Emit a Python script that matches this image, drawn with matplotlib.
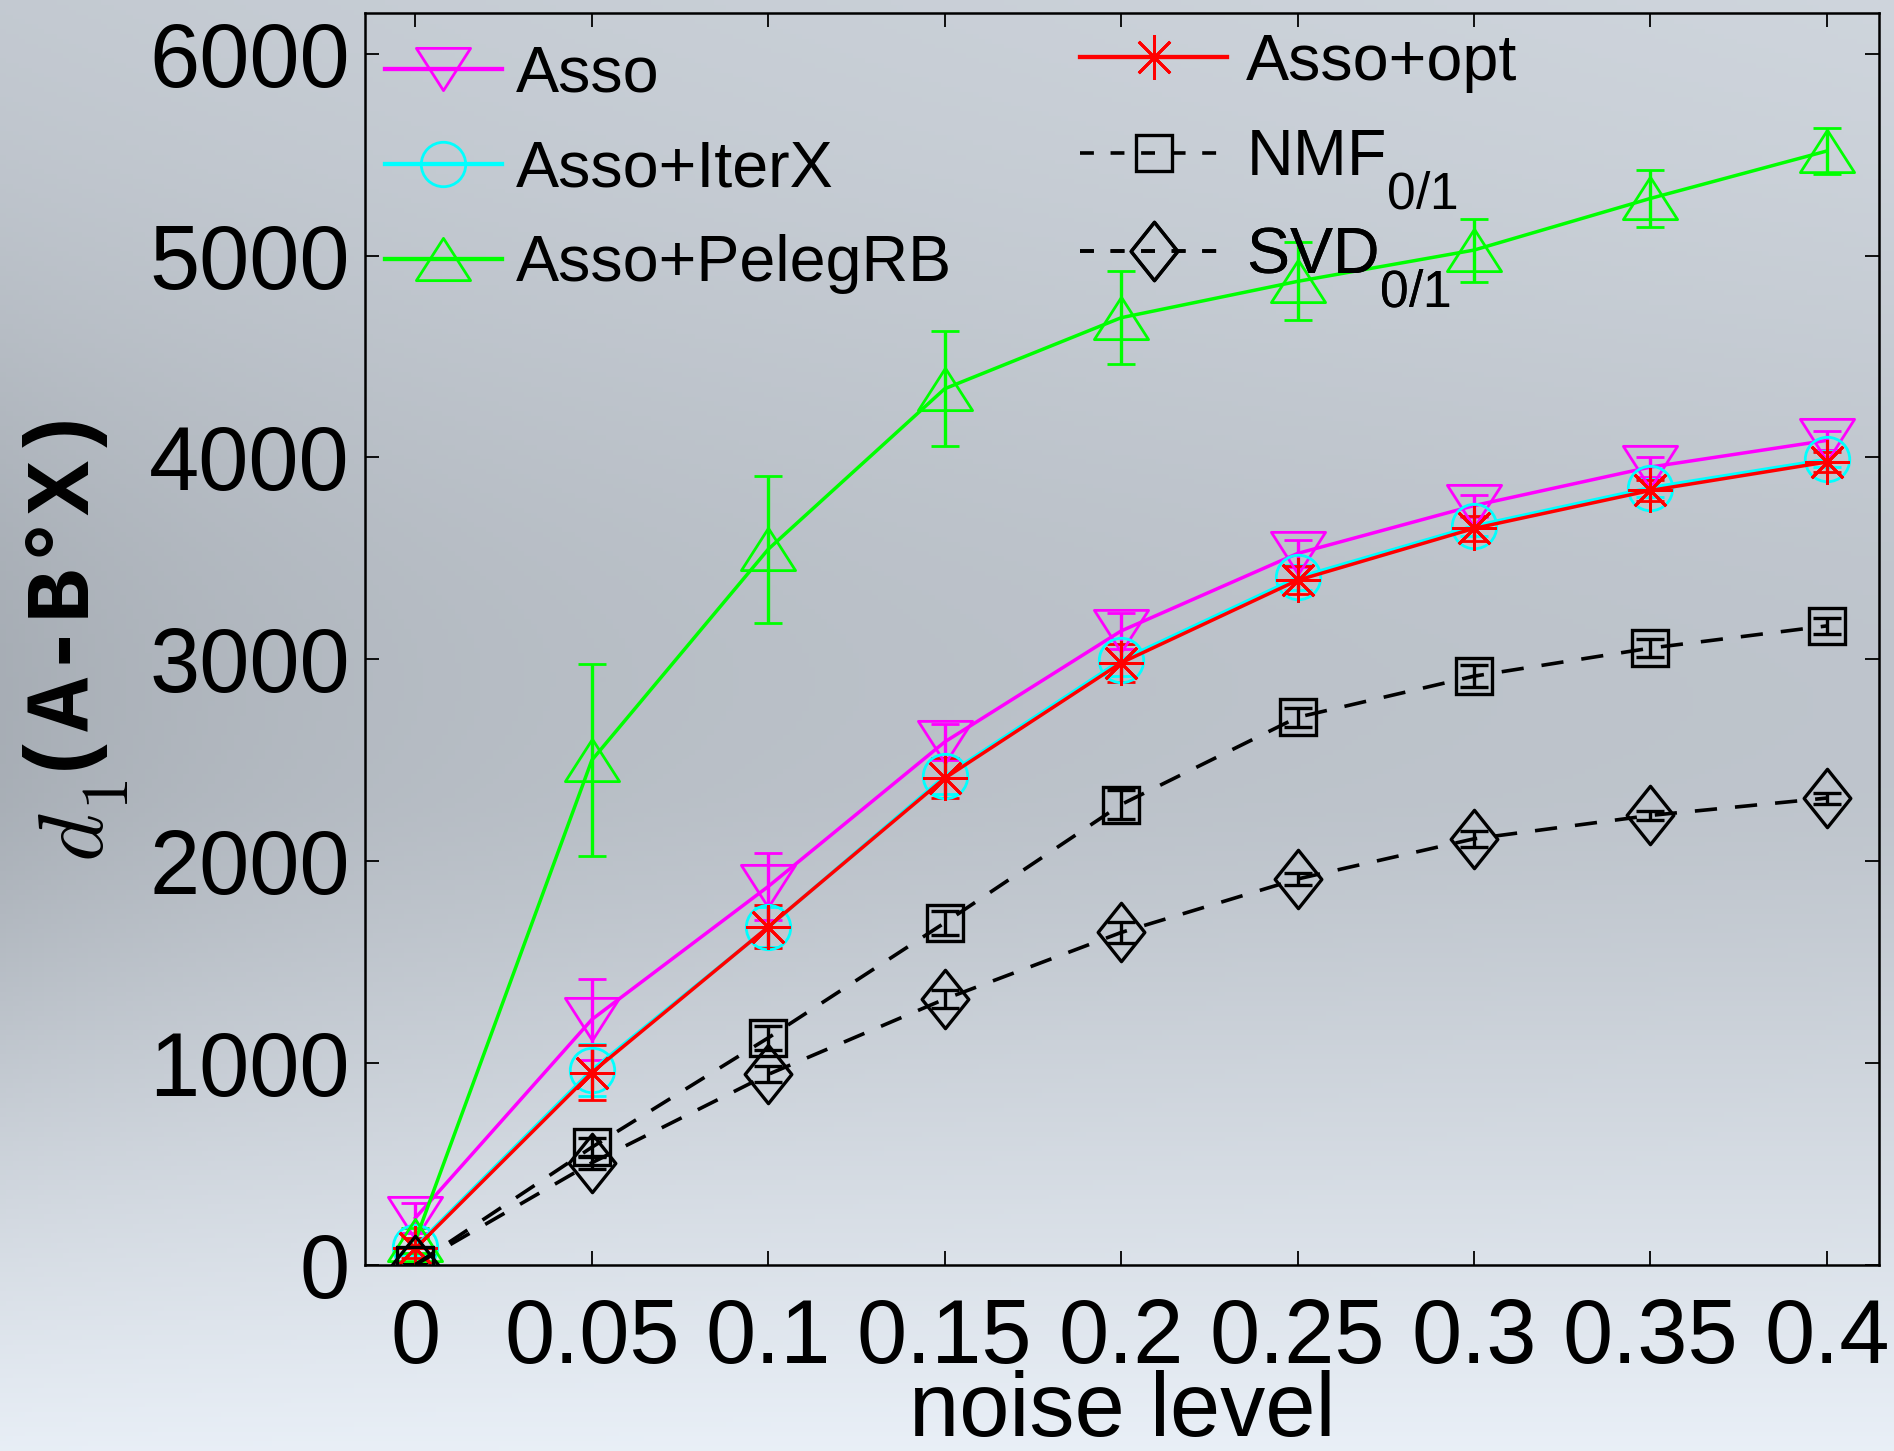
import matplotlib
matplotlib.use("Agg")
import matplotlib.pyplot as plt
import matplotlib.path
import matplotlib._mathtext as mtext
from matplotlib.lines import Line2D
import numpy as np

plt.rcParams['font.family'] = ['Liberation Sans', 'DejaVu Sans']
plt.rcParams['mathtext.fontset'] = 'custom'
plt.rcParams['mathtext.rm'] = 'Liberation Sans'
plt.rcParams['mathtext.it'] = 'Liberation Sans:italic'
plt.rcParams['lines.scale_dashes'] = False

# индексы как в matlab: крупнее и ниже
mtext.SHRINK_FACTOR = 0.8
mtext.FontConstantsBase.sub1 = 1.0

# данные
noise = [0, 0.05, 0.1, 0.15, 0.2, 0.25, 0.3, 0.35, 0.4]
xtick_labels = ['0', '0.05', '0.1', '0.15', '0.2', '0.25', '0.3', '0.35', '0.4']

asso = [232, 1215, 1874, 2590, 3140, 3524, 3761, 3952, 4084]
asso_err = [75, 200, 165, 90, 90, 65, 55, 50, 45]
iterx = [90, 965, 1672, 2420, 2995, 3405, 3660, 3850, 3990]
iterx_err = [40, 130, 100, 90, 80, 60, 50, 45, 40]
peleg = [120, 2500, 3545, 4340, 4692, 4872, 5027, 5283, 5518]
peleg_err = [60, 474, 365, 284, 229, 193, 156, 141, 116]
opt = [81, 952, 1674, 2410, 2982, 3391, 3648, 3836, 3977]
opt_err = [50, 137, 106, 100, 95, 70, 60, 50, 50]
nmf = [0, 582, 1124, 1694, 2280, 2712, 2916, 3055, 3165]
nmf_err = [10, 45, 60, 60, 70, 48, 54, 46, 41]
svd = [0, 505, 943, 1316, 1646, 1911, 2110, 2226, 2312]
svd_err = [10, 30, 40, 45, 50, 31, 41, 23, 27]

# маркеры в стиле matlab (треугольники шире, ромб вытянут)
tri_down = matplotlib.path.Path([(-1, 0.78), (1, 0.78), (0, -0.78), (-1, 0.78)], closed=True)
tri_up = matplotlib.path.Path([(-1, -0.78), (1, -0.78), (0, 0.78), (-1, -0.78)], closed=True)
diamond = matplotlib.path.Path([(0, 1), (0.8, 0), (0, -1), (-0.8, 0), (0, 1)], closed=True)
asterisk = (8, 2, 0)

series = [
    ('Asso', asso, asso_err, '#ff00ff', tri_down, 39, '-'),
    ('Asso+IterX', iterx, iterx_err, '#00ffff', 'o', 32, '-'),
    ('Asso+PelegRB', peleg, peleg_err, '#00ff00', tri_up, 39, '-'),
    ('Asso+opt', opt, opt_err, '#ff0000', asterisk, 32, '-'),
    ('NMF$_{0/1}$', nmf, nmf_err, 'black', 's', 26, '--'),
    ('SVD$_{0/1}$', svd, svd_err, 'black', diamond, 42, '--'),
]

W, H = 1894, 1451
fig = plt.figure(figsize=(W / 100, H / 100), dpi=100)

# фон с градиентом как на слайде
bg = fig.add_axes([0, 0, 1, 1], zorder=-10)
yy, xx = np.mgrid[0:1:300j, 0:1:300j]
light = 0.80 - 0.05 * np.exp(-((yy - 0.45) / 0.3) ** 2) + 0.14 * np.clip((yy - 0.55) / 0.45, 0, 1) ** 1.3
light = light - 0.07 * np.exp(-xx / 0.18) * np.exp(-((yy - 0.5) / 0.3) ** 2) + 0.04 * xx * (1 - yy)
img = np.dstack([light - 0.025, light, light + 0.03])
bg.imshow(np.clip(img, 0, 1), aspect='auto', extent=[0, 1, 0, 1], origin='upper')
bg.axis('off')

ax = fig.add_axes([0.1927, 0.1284, 0.7994, 0.8624])
ax.set_facecolor('none')

handles = []
for label, vals, errs, color, marker, ms, ls in series:
    lw = 2.5 if ls == '-' else 2.6
    mew = 2.0 if color != 'black' else 2.4
    eb = ax.errorbar(noise, vals, yerr=errs, color=color, ecolor=color, elinewidth=2.4,
                     capsize=10, capthick=2.6, marker=marker, markersize=ms, mfc='none',
                     mec=color, mew=mew, linewidth=lw, linestyle=ls)
    if ls == '--':
        eb[0].set_dashes((16, 13))
    h = Line2D([], [], color=color, marker=marker, markersize=ms, mfc='none', mec=color,
               mew=mew, linewidth=lw + 0.6 if ls == '-' else lw, linestyle=ls)
    if ls == '--':
        h.set_dashes((10, 12))
    handles.append((h, label))

ax.set_xlim(-0.0143, 0.4148)
ax.set_ylim(0, 6200)
ax.set_xticks(noise)
ax.set_xticklabels(xtick_labels)
ax.set_yticks([0, 1000, 2000, 3000, 4000, 5000, 6000])
ax.tick_params(direction='in', length=10, width=1.3, labelsize=65, pad=11,
               top=True, right=True)
ax.tick_params(axis='x', pad=23)
for sp in ax.spines.values():
    sp.set_linewidth(1.8)

ax.set_xlabel('noise level', fontsize=65)
ax.xaxis.set_label_coords(0.5, -0.084)
ax.xaxis.label.set_va('top')

# легенда: левая колонка одним блоком, правая - по одной строке,
# чтобы шаг строк был одинаковым, как в matlab
legends = []
leg = ax.legend([h for h, l in handles[:3]], [l for h, l in handles[:3]],
                loc='upper left', bbox_to_anchor=(0.2033, 0.9703), bbox_transform=fig.transFigure,
                frameon=False, fontsize=46.5, handlelength=1.81, handletextpad=0.21,
                labelspacing=0.54, borderpad=0, borderaxespad=0)
ax.add_artist(leg)
legends.append((leg, 0.2033, 69))
for (h, l), target in zip(handles[3:], [57, 153, 251]):
    leg = ax.legend([h], [l], loc='upper left', bbox_to_anchor=(0.570, 0.98),
                    bbox_transform=fig.transFigure, frameon=False, fontsize=46.5,
                    handlelength=2.29, handletextpad=0.28, borderpad=0, borderaxespad=0)
    ax.add_artist(leg)
    legends.append((leg, 0.570, target))

fig.canvas.draw()
renderer = fig.canvas.get_renderer()
for leg, x0, target in legends:
    bb = leg.legend_handles[0].get_window_extent(renderer)
    yc = (bb.y0 + bb.y1) / 2
    dy = ((H - target) - yc) / H
    anchor = leg.get_bbox_to_anchor().transformed(fig.transFigure.inverted())
    leg.set_bbox_to_anchor((x0, anchor.y1 + dy), transform=fig.transFigure)

# подпись оси y из частей: d, индекс 1, (A-B°X)
fig.text(36 / W, 1 - 862 / H, r'$d$', rotation=90, ha='left', va='bottom',
         fontsize=66, math_fontfamily='cm')
fig.text(80 / W, 1 - 810 / H, r'$1$', rotation=90, ha='left', va='bottom',
         fontsize=48, math_fontfamily='cm')
fig.text(50 / W, 1 - 580 / H, '(A-B°X)', rotation=90, ha='center', va='center',
         fontsize=65, family='Liberation Mono', weight='bold')

fig.savefig('out.png', dpi=100)
